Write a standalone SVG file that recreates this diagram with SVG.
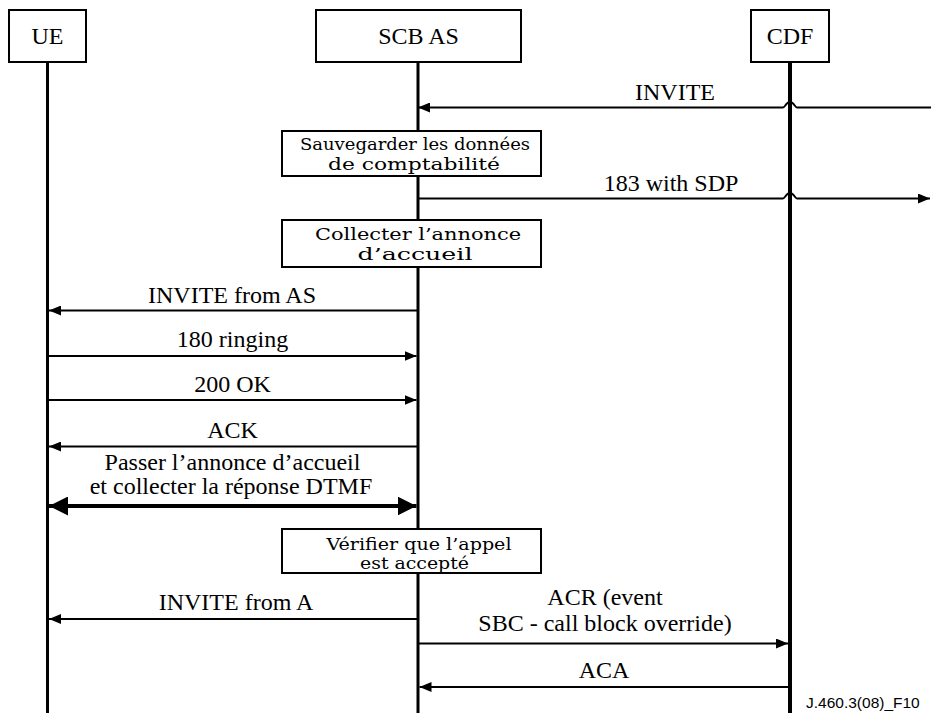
<svg xmlns="http://www.w3.org/2000/svg" width="931" height="713" viewBox="0 0 931 713">
  <style>
    .box { fill: #fff; stroke: #000; stroke-width: 2; }
    .life { stroke: #000; stroke-width: 3; fill: none; }
    .msg { stroke: #000; stroke-width: 2; fill: none; }
    .thick { stroke: #000; stroke-width: 4; fill: none; }
    .lbl { font-family: "Liberation Serif", "Times New Roman", serif; font-size: 24px; fill: #000; text-anchor: middle; }
    .act { font-family: "DejaVu Serif", serif; font-size: 16.5px; fill: #000; text-anchor: middle; }
    .ref { font-family: "Liberation Sans", Arial, sans-serif; font-size: 15.5px; fill: #000; }
  </style>
  <defs>
    <marker id="arr" viewBox="0 0 12 10" refX="12" refY="5" markerWidth="12" markerHeight="10" markerUnits="userSpaceOnUse" orient="auto">
      <path d="M0,0 L12,5 L0,10 Z" fill="#000"/>
    </marker>
    <marker id="arrBig" viewBox="0 0 19 19" refX="19" refY="9.5" markerWidth="19" markerHeight="19" markerUnits="userSpaceOnUse" orient="auto-start-reverse">
      <path d="M0,0 L19,9.5 L0,19 Z" fill="#000"/>
    </marker>
  </defs>

  <!-- lifelines -->
  <g id="lifelines">
    <line class="life" x1="47.5" y1="62" x2="47.5" y2="713"/>
    <line class="life" x1="418" y1="62" x2="418" y2="713"/>
    <line class="life" x1="790" y1="62" x2="790" y2="713" style="stroke-width:4"/>
  </g>

  <!-- participants -->
  <g id="ue">
    <rect class="box" x="9" y="10" width="77" height="52"/>
    <text class="lbl" x="47.5" y="44">UE</text>
  </g>
  <g id="scb-as">
    <rect class="box" x="316" y="10" width="205" height="52"/>
    <text class="lbl" x="418.5" y="44">SCB AS</text>
  </g>
  <g id="cdf">
    <rect class="box" x="751" y="10" width="78" height="52"/>
    <text class="lbl" x="790" y="44">CDF</text>
  </g>

  <!-- connectors -->
  <g id="connectors">
    <path class="msg" d="M931,107.5 H797 C795,107.5 794,102 790,102 C786,102 785,107.5 783,107.5 H418" marker-end="url(#arr)"/>
    <text class="lbl" x="675" y="100">INVITE</text>

    <path class="msg" d="M418,198.5 H783 C785,198.5 786,193 790,193 C794,193 795,198.5 797,198.5 H930" marker-end="url(#arr)"/>
    <text class="lbl" x="671" y="191">183 with SDP</text>

    <line class="msg" x1="418" y1="310.5" x2="49" y2="310.5" marker-end="url(#arr)"/>
    <text class="lbl" x="232" y="303">INVITE from AS</text>

    <line class="msg" x1="47.5" y1="356" x2="416.5" y2="356" marker-end="url(#arr)"/>
    <text class="lbl" x="232.5" y="347">180 ringing</text>

    <line class="msg" x1="47.5" y1="400" x2="416.5" y2="400" marker-end="url(#arr)"/>
    <text class="lbl" x="232.5" y="392">200 OK</text>

    <line class="msg" x1="418" y1="446.5" x2="49" y2="446.5" marker-end="url(#arr)"/>
    <text class="lbl" x="232.5" y="438">ACK</text>

    <line class="thick" x1="49" y1="506" x2="416.5" y2="506" marker-start="url(#arrBig)" marker-end="url(#arrBig)"/>
    <text class="lbl" x="232.5" y="470">Passer l’annonce d’accueil</text>
    <text class="lbl" x="231" y="494">et collecter la réponse DTMF</text>

    <line class="msg" x1="418" y1="619" x2="49" y2="619" marker-end="url(#arr)"/>
    <text class="lbl" x="236" y="610">INVITE from A</text>

    <line class="msg" x1="418" y1="643.5" x2="788" y2="643.5" marker-end="url(#arr)"/>
    <text class="lbl" x="605" y="605">ACR (event</text>
    <text class="lbl" x="605" y="631">SBC - call block override)</text>

    <line class="msg" x1="790" y1="687" x2="419.5" y2="687" marker-end="url(#arr)"/>
    <text class="lbl" x="604" y="678">ACA</text>
  </g>

  <!-- actions on the SCB AS lifeline -->
  <g id="save-charging">
    <rect class="box" x="282" y="131" width="259" height="45"/>
    <text class="act" x="415" y="150" textLength="230" lengthAdjust="spacingAndGlyphs">Sauvegarder les données</text>
    <text class="act" x="414" y="169.5" textLength="172" lengthAdjust="spacingAndGlyphs">de comptabilité</text>
  </g>
  <g id="collect-greeting">
    <rect class="box" x="282" y="220" width="259" height="47"/>
    <text class="act" x="418" y="240" textLength="206" lengthAdjust="spacingAndGlyphs">Collecter l’annonce</text>
    <text class="act" x="415" y="260" textLength="115" lengthAdjust="spacingAndGlyphs">d’accueil</text>
  </g>
  <g id="verify-accepted">
    <rect class="box" x="282" y="529" width="259" height="44"/>
    <text class="act" x="419" y="549.5" textLength="185" lengthAdjust="spacingAndGlyphs">Vérifier que l’appel</text>
    <text class="act" x="414.5" y="569" textLength="109" lengthAdjust="spacingAndGlyphs">est accepté</text>
  </g>

  <text class="ref" x="806" y="708">J.460.3(08)_F10</text>
</svg>
